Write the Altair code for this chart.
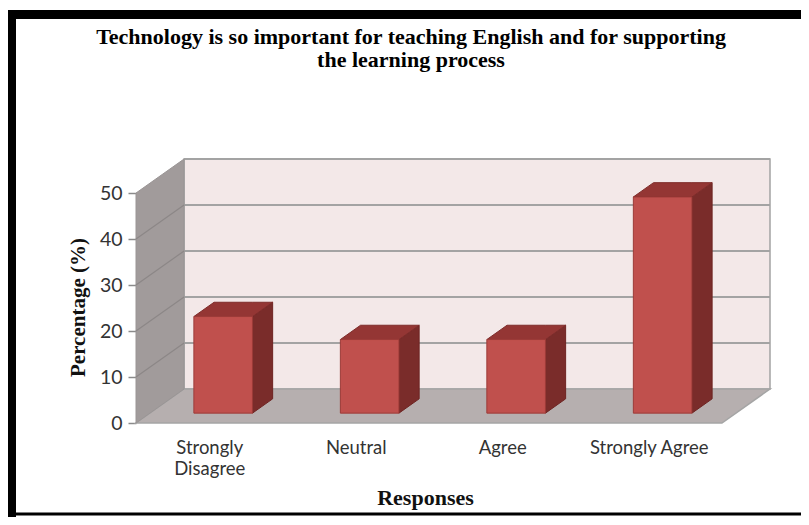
import altair as alt
import pandas as pd

# ---- data ----
categories = ["Strongly Disagree", "Neutral", "Agree", "Strongly Agree"]
category_lines = [["Strongly", "Disagree"], ["Neutral"], ["Agree"], ["Strongly Agree"]]
percentages = [21, 16, 16, 47]
y_ticks = [0, 10, 20, 30, 40, 50]
y_max_tick = 50

title_lines = ["Technology is so important for teaching English and for supporting",
               "the learning process"]
x_title = "Responses"
y_title = "Percentage (%)"

# ---- 3D-look geometry (in scale units) ----
DX = 0.328   # depth shift along x (category units)
DY = 7.4     # depth shift along y (percentage units)
F0, F1 = 0.29, 0.71   # bar depth span (fraction of total depth)
BW = 0.40    # bar width (category units)
n = len(categories)
XMAX = n + DX
YMAX = y_max_tick + DY

# colours
BACK = "#f3e8e8"
GRID = "#a3a3a3"
SIDEWALL = "#a19b9b"
FLOOR = "#b6afaf"
FRONT = "#c0504d"
TOP = "#943634"
SIDE = "#7a2c2a"

xs = alt.Scale(domain=[0, XMAX], nice=False, zero=False)
ys = alt.Scale(domain=[0, YMAX], nice=False, zero=False)


def poly(df, fill, stroke, sw=1.0):
    # points are listed in ascending x within each shape "s"
    return alt.Chart(df).mark_area(fill=fill, stroke=stroke, strokeWidth=sw, opacity=1,
                                   orient="vertical", interpolate="linear").encode(
        x=alt.X("x:Q", scale=xs),
        y=alt.Y("y:Q", scale=ys, stack=None),
        y2="y2:Q",
        detail="s:N",
    )


# back wall
back = pd.DataFrame([{"x": DX, "x2": XMAX, "y": DY, "y2": YMAX}])
back_l = alt.Chart(back).mark_rect(fill=BACK, stroke=GRID, strokeWidth=1.5).encode(
    x=alt.X("x:Q", scale=xs), x2="x2:Q", y=alt.Y("y:Q", scale=ys), y2="y2:Q")

grid = pd.DataFrame([{"x": DX, "x2": XMAX, "y": t + DY} for t in y_ticks[1:]])
grid_l = alt.Chart(grid).mark_rule(color=GRID, strokeWidth=2).encode(
    x=alt.X("x:Q", scale=xs), x2="x2:Q", y=alt.Y("y:Q", scale=ys))

# left wall
lw = pd.DataFrame([
    {"s": 0, "x": 0, "y": 0, "y2": y_max_tick},
    {"s": 0, "x": DX, "y": DY, "y2": y_max_tick + DY},
])
lw_l = poly(lw, SIDEWALL, "#9a9595")

lwg = pd.DataFrame([{"x": 0, "x2": DX, "y": t, "y2": t + DY} for t in y_ticks[1:-1]])
lwg_l = alt.Chart(lwg).mark_rule(color="#8c8787", strokeWidth=1.2).encode(
    x=alt.X("x:Q", scale=xs), x2="x2:Q", y=alt.Y("y:Q", scale=ys), y2="y2:Q")

# floor
fl = pd.DataFrame([
    {"s": 0, "x": 0, "y": 0, "y2": 0},
    {"s": 0, "x": DX, "y": 0, "y2": DY},
    {"s": 0, "x": n, "y": 0, "y2": DY},
    {"s": 0, "x": n + DX, "y": DY, "y2": DY},
])
fl_l = poly(fl, FLOOR, "#a5a5a5", 1.5)

# bars
front_rows, top_rows, side_rows = [], [], []
bdx = (F1 - F0) * DX
bdy = (F1 - F0) * DY
for i, (c, v) in enumerate(zip(categories, percentages)):
    cx = i + 0.5 + F0 * DX
    x0, x1 = cx - BW / 2, cx + BW / 2
    base = F0 * DY
    top = base + v
    front_rows.append({"cat": c, "x": x0, "x2": x1, "y": base, "y2": top})
    top_rows += [
        {"s": i, "x": x0, "y": top, "y2": top},
        {"s": i, "x": x0 + bdx, "y": top, "y2": top + bdy},
        {"s": i, "x": x1, "y": top, "y2": top + bdy},
        {"s": i, "x": x1 + bdx, "y": top + bdy, "y2": top + bdy},
    ]
    side_rows += [
        {"s": i, "x": x1, "y": base, "y2": top},
        {"s": i, "x": x1 + bdx, "y": base + bdy, "y2": top + bdy},
    ]

side_l = poly(pd.DataFrame(side_rows), SIDE, "#6e2422")
top_l = poly(pd.DataFrame(top_rows), TOP, "#7e2c2a")
front_l = alt.Chart(pd.DataFrame(front_rows)).mark_rect(fill=FRONT, stroke="#9c3b38", strokeWidth=1).encode(
    x=alt.X("x:Q", scale=xs), x2="x2:Q", y=alt.Y("y:Q", scale=ys), y2="y2:Q")

# axes carrier
label_expr_parts = []
for i, lines in enumerate(category_lines):
    txt = "[" + ",".join("'" + s + "'" for s in lines) + "]"
    label_expr_parts.append(f"datum.value == {i + 0.5} ? {txt}")
label_expr = " : ".join(label_expr_parts) + " : ''"

axes_df = pd.DataFrame([{"x": 0, "y": 0}])
axes_l = alt.Chart(axes_df).mark_point(opacity=0).encode(
    x=alt.X("x:Q", scale=xs, title=x_title,
            axis=alt.Axis(values=[i + 0.5 for i in range(n)], labelExpr=label_expr,
                          domain=False, ticks=False, grid=False, labelPadding=15,
                          labelFont="Lato", labelFontSize=18.5, labelColor="#333333",
                          labelLineHeight=21, labelBaseline="top",
                          titleFont="Liberation Serif", titleFontSize=22, titleFontWeight="bold",
                          titleColor="#111111", titleX=289, titleY=74, titleBaseline="middle")),
    y=alt.Y("y:Q", scale=ys, title=y_title,
            axis=alt.Axis(values=y_ticks, domain=False, ticks=True, tickSize=8, tickColor="#8a8a8a",
                          tickWidth=1.5, grid=False, labelPadding=6,
                          labelFont="Lato", labelFontSize=19.5, labelColor="#333333",
                          titleFont="Liberation Serif", titleFontSize=21, titleFontWeight="bold",
                          titleColor="#111111", titleX=-58, titleY=148, titleBaseline="middle",
                          titleAngle=270)),
)

# decorative picture frame
frame_l = alt.Chart(axes_df).mark_rule(color="black", strokeWidth=9).encode(
    x=alt.value(-128), x2=alt.value(700), y=alt.value(-144.5))
frame_l2 = alt.Chart(axes_df).mark_rule(color="black", strokeWidth=8).encode(
    x=alt.value(-124), y=alt.value(-141), y2=alt.value(360))
frame_l3 = alt.Chart(axes_df).mark_rule(color="black", strokeWidth=3).encode(
    x=alt.value(-128), x2=alt.value(700), y=alt.value(355))

chart = alt.layer(
    back_l, grid_l, fl_l, lw_l, lwg_l, side_l, top_l, front_l, axes_l, frame_l, frame_l2, frame_l3
).properties(
    width=634, height=264,
    background="white",
    title=alt.TitleParams(title_lines, font="Liberation Serif", fontSize=22, fontWeight="bold",
                          color="black", anchor="middle", dx=-42, offset=0, dy=62, lineHeight=23),
    autosize=alt.AutoSizeParams(type="none"),
    padding={"left": 128, "top": 151, "right": 31, "bottom": 94},
).configure_view(strokeWidth=0, stroke="transparent")

chart.save("out.html", embed_options={"renderer": "svg", "actions": False})
